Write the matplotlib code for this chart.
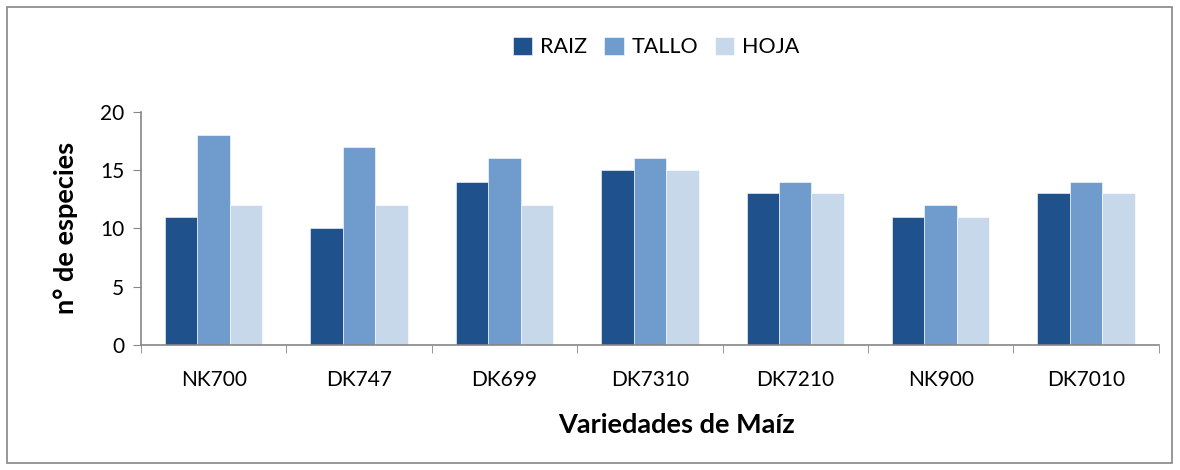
import numpy as np
import matplotlib.pyplot as plt
from matplotlib.patches import Rectangle

plt.rcParams['font.family'] = ['Lato', 'DejaVu Sans']

variedades = ['NK700', 'DK747', 'DK699', 'DK7310', 'DK7210', 'NK900', 'DK7010']
raiz = [11, 10, 14, 15, 13, 11, 13]
tallo = [18, 17, 16, 16, 14, 12, 14]
hoja = [12, 12, 12, 15, 13, 11, 13]

series = [('RAIZ', raiz, '#1F518C'), ('TALLO', tallo, '#709CCD'), ('HOJA', hoja, '#C8D8EB')]

fig = plt.figure(figsize=(11.8, 4.7), dpi=100)
ax = fig.add_axes([0.1195, 0.266, 0.8625, 0.496])

x = np.arange(len(variedades))
w = 0.223
for i, (name, vals, col) in enumerate(series):
    ax.bar(x + (i - 1) * w, vals, width=w, color=col, label=name,
           edgecolor='white', linewidth=0.4)

ax.set_xlim(-0.5, len(variedades) - 0.5)
ax.set_ylim(0, 20)
ax.set_yticks([0, 5, 10, 15, 20])
ax.set_xticks(x)
ax.set_xticklabels(variedades, fontsize=15)
ax.set_xticks(np.arange(len(variedades) + 1) - 0.5, minor=True)
ax.tick_params(axis='x', which='major', length=0, pad=18)
ax.tick_params(axis='x', which='minor', length=6, color='#868686', direction='out')
ax.tick_params(axis='y', length=6, color='#868686', labelsize=15, pad=6)

for s in ['top', 'right']:
    ax.spines[s].set_visible(False)
for s in ['left', 'bottom']:
    ax.spines[s].set_color('#868686')
    ax.spines[s].set_linewidth(1.2)

ax.set_ylabel('n° de especies', fontsize=19.5, fontweight='bold', labelpad=16)
ax.set_xlabel('Variedades de Maíz', fontsize=19.5, fontweight='bold')
ax.xaxis.label.set_va('center')
ax.xaxis.set_label_coords(0.5265, -0.343)

fig.legend(loc='center', bbox_to_anchor=(0.556, 0.9), ncol=3, frameon=False,
           fontsize=15.5, handlelength=0.9, handleheight=0.9, handletextpad=0.35,
           columnspacing=0.8)

# outer chart frame
fig.patches.append(Rectangle((7 / 1180, 7 / 470), 1165 / 1180, 456 / 470,
                             transform=fig.transFigure, fill=False,
                             edgecolor='#868686', linewidth=1.2))

fig.savefig('out.png', dpi=100)
